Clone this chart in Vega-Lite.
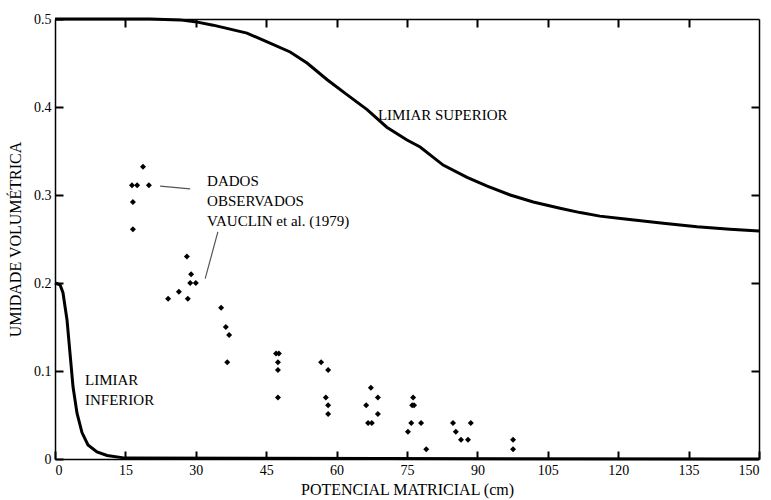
{
  "$schema": "https://vega.github.io/schema/vega-lite/v6.json",
  "width": 704,
  "height": 440,
  "autosize": {"type": "none"},
  "padding": {"left": 55, "top": 19, "right": 12, "bottom": 41},
  "background": "white",
  "config": {
    "font": "Liberation Serif",
    "view": {"stroke": null}
  },
  "datasets": {
    "obs": [
      {"x": 18.75, "y": 0.332}, {"x": 16.4, "y": 0.311}, {"x": 17.5, "y": 0.311}, {"x": 20.0, "y": 0.311},
      {"x": 16.6, "y": 0.292}, {"x": 16.6, "y": 0.261}, {"x": 28.1, "y": 0.23}, {"x": 29.0, "y": 0.21},
      {"x": 28.8, "y": 0.2}, {"x": 30.0, "y": 0.2}, {"x": 26.4, "y": 0.19}, {"x": 24.1, "y": 0.182},
      {"x": 28.3, "y": 0.182}, {"x": 35.4, "y": 0.172}, {"x": 36.4, "y": 0.15}, {"x": 37.1, "y": 0.141},
      {"x": 36.7, "y": 0.11}, {"x": 47.1, "y": 0.12}, {"x": 47.7, "y": 0.12}, {"x": 47.5, "y": 0.11},
      {"x": 47.5, "y": 0.101}, {"x": 47.5, "y": 0.07}, {"x": 56.7, "y": 0.11}, {"x": 58.2, "y": 0.101},
      {"x": 57.7, "y": 0.07}, {"x": 58.2, "y": 0.061}, {"x": 58.2, "y": 0.051}, {"x": 67.3, "y": 0.081},
      {"x": 68.8, "y": 0.07}, {"x": 66.3, "y": 0.061}, {"x": 68.8, "y": 0.051}, {"x": 66.7, "y": 0.041},
      {"x": 67.5, "y": 0.041}, {"x": 76.3, "y": 0.07}, {"x": 76.1, "y": 0.061}, {"x": 76.5, "y": 0.061},
      {"x": 75.9, "y": 0.041}, {"x": 75.2, "y": 0.031}, {"x": 78.0, "y": 0.041}, {"x": 79.1, "y": 0.011},
      {"x": 84.8, "y": 0.041}, {"x": 85.4, "y": 0.031}, {"x": 86.5, "y": 0.022}, {"x": 88.0, "y": 0.022},
      {"x": 88.6, "y": 0.041}, {"x": 97.6, "y": 0.022}, {"x": 97.6, "y": 0.011}
    ],
    "upper": [
      {"x": 0, "y": 0.5}, {"x": 20.2, "y": 0.5}, {"x": 26.6, "y": 0.499}, {"x": 29.8, "y": 0.497},
      {"x": 33.7, "y": 0.493}, {"x": 40.9, "y": 0.484}, {"x": 45.2, "y": 0.474}, {"x": 50.1, "y": 0.4625},
      {"x": 53.7, "y": 0.45}, {"x": 58.0, "y": 0.431}, {"x": 62.2, "y": 0.414}, {"x": 66.5, "y": 0.397},
      {"x": 70.7, "y": 0.377}, {"x": 75.0, "y": 0.3625}, {"x": 77.8, "y": 0.3545}, {"x": 82.7, "y": 0.334},
      {"x": 87.8, "y": 0.32}, {"x": 92.1, "y": 0.31}, {"x": 97.0, "y": 0.3}, {"x": 101.9, "y": 0.292},
      {"x": 107.6, "y": 0.285}, {"x": 111.9, "y": 0.28}, {"x": 116.1, "y": 0.276}, {"x": 121.0, "y": 0.273},
      {"x": 129.6, "y": 0.268}, {"x": 136.8, "y": 0.264}, {"x": 143.8, "y": 0.261}, {"x": 150, "y": 0.259}
    ],
    "lower": [
      {"x": 0, "y": 0.2}, {"x": 1.07, "y": 0.198}, {"x": 1.7, "y": 0.189}, {"x": 2.56, "y": 0.158},
      {"x": 3.2, "y": 0.12}, {"x": 3.84, "y": 0.082}, {"x": 4.69, "y": 0.052}, {"x": 5.75, "y": 0.03},
      {"x": 7.03, "y": 0.016}, {"x": 8.95, "y": 0.008}, {"x": 11.1, "y": 0.004}, {"x": 15, "y": 0.001},
      {"x": 150, "y": 0}
    ],
    "labels": [
      {"x": 68.8, "y": 0.391, "text": "LIMIAR SUPERIOR"},
      {"x": 6.4, "y": 0.0898, "text": "LIMIAR"},
      {"x": 6.4, "y": 0.067, "text": "INFERIOR"},
      {"x": 32.4, "y": 0.316, "text": "DADOS"},
      {"x": 32.4, "y": 0.293, "text": "OBSERVADOS"},
      {"x": 32.4, "y": 0.27, "text": "VAUCLIN et al. (1979)"}
    ],
    "leaders": [
      {"x": 22.4, "y": 0.31, "x2": 28.8, "y2": 0.307},
      {"x": 34.7, "y": 0.258, "x2": 32.0, "y2": 0.205}
    ]
  },
  "layer": [
    {
      "data": {"name": "obs"},
      "mark": {"type": "point", "shape": "diamond", "filled": true, "color": "black", "size": 36, "opacity": 1},
      "encoding": {
        "x": {
          "field": "x", "type": "quantitative",
          "scale": {"domain": [0, 150], "nice": false},
          "axis": {"orient": "bottom", "values": [0, 15, 30, 45, 60, 75, 90, 105, 120, 135, 150],
                   "domain": true, "domainColor": "black", "domainWidth": 1.5, "grid": false,
                   "ticks": true, "tickSize": -8, "tickWidth": 2, "tickColor": "black", "tickOpacity": 1,
                   "labelPadding": 12, "labelFont": "Liberation Serif", "labelFontSize": 14, "labelColor": "black",
                   "title": "POTENCIAL MATRICIAL (cm)", "titlePadding": 4, "titleFont": "Liberation Serif", "titleFontSize": 16,
                   "titleFontWeight": "normal", "titleColor": "black"}
        },
        "y": {
          "field": "y", "type": "quantitative",
          "scale": {"domain": [0, 0.5], "nice": false},
          "axis": {"orient": "left", "values": [0, 0.1, 0.2, 0.3, 0.4, 0.5], "format": ".1~f",
                   "domain": true, "domainColor": "black", "domainWidth": 1.5, "grid": false,
                   "ticks": true, "tickSize": -8, "tickWidth": 2, "tickColor": "black", "tickOpacity": 1,
                   "labelPadding": 12, "labelFont": "Liberation Serif", "labelFontSize": 14, "labelColor": "black",
                   "title": "UMIDADE VOLUMÉTRICA", "titlePadding": 10, "titleFont": "Liberation Serif", "titleFontSize": 16,
                   "titleFontWeight": "normal", "titleColor": "black"}
        }
      }
    },
    {
      "data": {"name": "upper"},
      "mark": {"type": "line", "color": "black", "strokeWidth": 3, "clip": false},
      "encoding": {
        "x": {"field": "x", "type": "quantitative",
              "axis": {"orient": "top", "values": [15, 30, 45, 60, 75, 90, 105, 120, 135],
                       "domain": true, "domainColor": "black", "domainWidth": 1.5, "grid": false,
                       "ticks": true, "tickSize": -8, "tickWidth": 2, "tickColor": "black", "tickOpacity": 1, "labels": false, "title": null}},
        "y": {"field": "y", "type": "quantitative",
              "axis": {"orient": "right", "values": [0.1, 0.2, 0.3, 0.4],
                       "domain": true, "domainColor": "black", "domainWidth": 1.5, "grid": false,
                       "ticks": true, "tickSize": -8, "tickWidth": 2, "tickColor": "black", "tickOpacity": 1, "labels": false, "title": null}}
      }
    },
    {
      "data": {"name": "lower"},
      "mark": {"type": "line", "color": "black", "strokeWidth": 3, "clip": false},
      "encoding": {
        "x": {"field": "x", "type": "quantitative", "axis": null},
        "y": {"field": "y", "type": "quantitative", "axis": null}
      }
    },
    {
      "data": {"name": "leaders"},
      "mark": {"type": "rule", "color": "#555", "strokeWidth": 1.2},
      "encoding": {
        "x": {"field": "x", "type": "quantitative", "axis": null},
        "y": {"field": "y", "type": "quantitative", "axis": null},
        "x2": {"field": "x2"},
        "y2": {"field": "y2"}
      }
    },
    {
      "data": {"name": "labels"},
      "mark": {"type": "text", "align": "left", "baseline": "middle", "font": "Liberation Serif", "fontSize": 15, "color": "black"},
      "encoding": {
        "x": {"field": "x", "type": "quantitative", "axis": null},
        "y": {"field": "y", "type": "quantitative", "axis": null},
        "text": {"field": "text"}
      }
    }
  ],
  "resolve": {"axis": {"x": "independent", "y": "independent"}}
}
